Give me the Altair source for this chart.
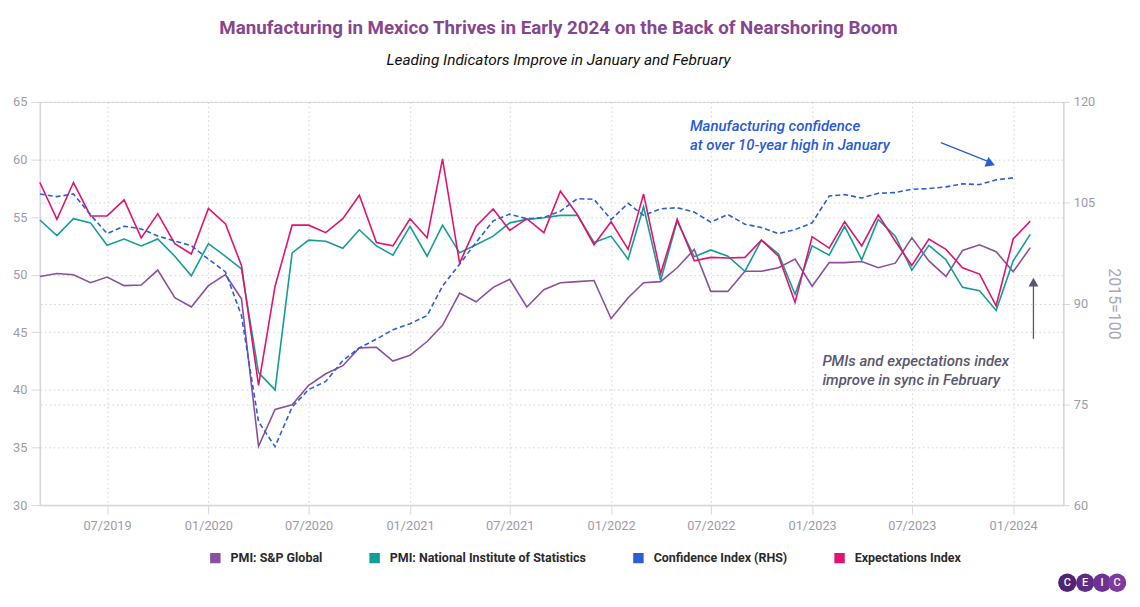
import altair as alt
import pandas as pd

# ---------------- data ----------------
months = [d.strftime("%Y/%m/%d") for d in pd.date_range("2019-03-01", periods=60, freq="MS")]

sp_global = [49.85, 50.1, 50.0, 49.3, 49.8, 49.05, 49.1, 50.4, 48.0, 47.2,
             49.05, 50.0, 47.9, 35.1, 38.3, 38.7, 40.4, 41.4, 42.1, 43.65,
             43.7, 42.5, 43.0, 44.2, 45.6, 48.4, 47.65, 48.9, 49.6, 47.2,
             48.7, 49.3, 49.4, 49.5, 46.2, 48.0, 49.3, 49.4, 50.6, 52.2,
             48.55, 48.55, 50.3, 50.3, 50.6, 51.35, 49.0, 51.05, 51.05, 51.15,
             50.6, 51.0, 53.2, 51.2, 49.85, 52.1, 52.6, 52.0, 50.25, 52.35]

inegi = [54.75, 53.4, 54.86, 54.5, 52.55, 53.1, 52.5, 53.1, 51.6, 49.9,
         52.7, 51.6, 50.5, 41.5, 40.0, 51.9, 53.0, 52.9, 52.3, 53.9,
         52.5, 51.7, 54.2, 51.6, 54.3, 51.9, 52.6, 53.35, 54.5, 54.8,
         54.95, 55.15, 55.15, 52.8, 53.35, 51.35, 55.9, 49.5, 54.65, 51.55,
         52.15, 51.6, 50.3, 53.0, 51.8, 48.3, 52.5, 51.7, 54.2, 51.3,
         54.8, 53.35, 50.4, 52.55, 51.3, 48.9, 48.6, 46.9, 51.2, 53.5]

expectations = [58.0, 54.8, 58.0, 55.1, 55.1, 56.5, 53.2, 55.3, 52.7, 51.8,
                55.75, 54.4, 50.8, 40.4, 49.0, 54.3, 54.3, 53.65, 54.86, 56.9,
                52.8, 52.5, 54.86, 53.2, 60.05, 51.0, 54.2, 55.7, 53.85, 54.86,
                53.65, 57.25, 55.2, 52.6, 54.6, 52.2, 57.0, 50.1, 54.8, 51.2,
                51.5, 51.45, 51.5, 53.0, 51.6, 47.6, 53.3, 52.3, 54.6, 52.5,
                55.2, 52.9, 50.8, 53.1, 52.2, 50.6, 50.05, 47.3, 53.1, 54.65]

confidence = [106.3, 105.9, 106.3, 103.2, 100.4, 101.5, 101.1, 100.05, 99.3, 98.6,
              96.6, 94.7, 88.2, 72.4, 68.7, 74.6, 77.2, 78.4, 81.5, 83.4,
              84.7, 86.1, 87.0, 88.2, 92.6, 95.85, 99.1, 102.3, 103.3, 102.6,
              102.8, 103.75, 105.6, 105.5, 102.5, 104.9, 103.1, 104.1, 104.25, 103.6,
              102.1, 103.25, 101.8, 101.3, 100.4, 101.0, 102.0, 106.0, 106.2, 105.7,
              106.4, 106.5, 107.0, 107.1, 107.35, 107.8, 107.7, 108.4, 108.7]

series_names = ["PMI: S&P Global", "PMI: National Institute of Statistics",
                "Confidence Index (RHS)", "Expectations Index"]
series_colors = ["#8a4f9e", "#149d97", "#2a5fd8", "#e0146f"]

left_ticks = [30, 35, 40, 45, 50, 55, 60, 65]
right_ticks = [60, 75, 90, 105, 120]
x_tick_dates = [alt.DateTime(year=y, month=m, date=1)
                for y, m in [(2019, 7), (2020, 1), (2020, 7), (2021, 1), (2021, 7),
                             (2022, 1), (2022, 7), (2023, 1), (2023, 7), (2024, 1)]]

title_text = "Manufacturing in Mexico Thrives in Early 2024 on the Back of Nearshoring Boom"
subtitle_text = "Leading Indicators Improve in January and February"
note_blue = ["Manufacturing confidence", "at over 10-year high in January"]
note_gray = ["PMIs and expectations index", "improve in sync in February"]

FONT = "Roboto"
AXIS_GRAY = "#9c9bab"
DOMAIN_GRAY = "#d6d6df"
GRID_GRAY = "#d2d2d2"


def frame(name, values):
    return pd.DataFrame({"date": months[:len(values)], "value": values, "series": name})


color_enc = alt.Color(
    "series:N",
    scale=alt.Scale(domain=series_names, range=series_colors),
    legend=alt.Legend(
        title=None, orient="none", direction="horizontal",
        legendX=170, legendY=452,
        symbolType="square", symbolSize=30, symbolStrokeWidth=5,
        symbolDash=[1, 0],
        labelFont=FONT, labelFontSize=12.5, labelFontWeight="bold", labelColor="#2b2b2b",
        labelOffset=9, columnPadding=39, labelLimit=400,
    ),
)

x_enc = alt.X(
    "date:T",
    scale=alt.Scale(domain=[alt.DateTime(year=2019, month=3, date=1),
                            alt.DateTime(year=2024, month=4, date=1)]),
    axis=alt.Axis(values=x_tick_dates, format="%m/%Y", title=None,
                  labelFont=FONT, labelFontSize=12.8, labelColor=AXIS_GRAY,
                  tickSize=9, tickColor=DOMAIN_GRAY, labelPadding=6,
                  domainColor=DOMAIN_GRAY, domainWidth=1.5,
                  grid=True, gridDash=[1.5, 3], gridColor=GRID_GRAY),
)

left_axis = alt.Axis(values=left_ticks, orient="left", title=None,
                     labelFont=FONT, labelFontSize=12.8, labelColor=AXIS_GRAY,
                     tickSize=9, tickColor=DOMAIN_GRAY, labelPadding=4,
                     domainColor=DOMAIN_GRAY, domainWidth=1.5,
                     grid=True, gridDash=[1.5, 3], gridColor=GRID_GRAY)
left_scale = alt.Scale(domain=[30, 65], nice=False, zero=False)


def left_line(name, values):
    return alt.Chart(frame(name, values)).mark_line(strokeWidth=1.6).encode(
        x=x_enc,
        y=alt.Y("value:Q", scale=left_scale, axis=left_axis),
        color=color_enc,
    )


left_layers = alt.layer(
    left_line(series_names[0], sp_global),
    left_line(series_names[1], inegi),
    left_line(series_names[3], expectations),
)

right_line = alt.Chart(frame(series_names[2], confidence)).mark_line(
    strokeWidth=1.6, strokeDash=[5, 3]
).encode(
    x=x_enc,
    y=alt.Y("value:Q", scale=alt.Scale(domain=[60, 120], nice=False, zero=False),
            axis=alt.Axis(values=right_ticks, orient="right", title="2015=100",
                          titleFont=FONT, titleFontSize=16, titleFontWeight="normal",
                          titleColor="#a9a8b6", titlePadding=11,
                          labelFont=FONT, labelFontSize=12.8, labelColor=AXIS_GRAY,
                          tickSize=6, tickColor=DOMAIN_GRAY, labelPadding=4,
                          domainColor=DOMAIN_GRAY, domainWidth=1.5,
                          grid=True, gridDash=[1.5, 3], gridColor=GRID_GRAY)),
    color=color_enc,
)

one = alt.Data(values=[{}])


def note(text, px, py, color):
    return alt.Chart(one).mark_text(
        text=text, align="left", baseline="middle", font=FONT, fontSize=15,
        fontStyle="italic", fontWeight=500, color=color
    ).encode(x=alt.value(px), y=alt.value(py))


blue_note1 = note(note_blue[0], 653, 24, "#2a5bd7")
blue_note2 = note(note_blue[1], 653, 43, "#2a5bd7")
gray_note1 = note(note_gray[0], 786, 260, "#5a586e")
gray_note2 = note(note_gray[1], 786, 279, "#5a586e")

blue_arrow = alt.Chart(one).mark_rule(color="#2a5bd7", strokeWidth=1.3).encode(
    x=alt.value(905), y=alt.value(41), x2=alt.value(953), y2=alt.value(60))
blue_head = alt.Chart(one).mark_point(
    shape="triangle-right", filled=True, size=110, color="#2a5bd7", opacity=1, angle=22
).encode(x=alt.value(955), y=alt.value(62))

gray_arrow = alt.Chart(one).mark_rule(color="#5a586e", strokeWidth=1.3).encode(
    x=alt.value(998), y=alt.value(238), y2=alt.value(184))
gray_head = alt.Chart(one).mark_point(
    shape="triangle-up", filled=True, size=100, color="#5a586e", opacity=1
).encode(x=alt.value(998), y=alt.value(181))

logo_letters = ["C", "E", "I", "C"]
logo_colors = ["#4e2475", "#5e2b85", "#6e3293", "#7d3a9f"]
logo_x = [1032, 1050, 1067, 1082]
logo_layers = []
for letter, col, lx in zip(logo_letters, logo_colors, logo_x):
    logo_layers.append(alt.Chart(one).mark_circle(size=340, color=col, opacity=1).encode(
        x=alt.value(lx), y=alt.value(483)))
    logo_layers.append(alt.Chart(one).mark_text(
        text=letter, font=FONT, fontSize=11, fontWeight=500, color="white",
        align="center", baseline="middle").encode(x=alt.value(lx), y=alt.value(483)))

chart = alt.layer(
    left_layers, right_line,
    blue_note1, blue_note2, gray_note1, gray_note2,
    blue_arrow, blue_head, gray_arrow, gray_head,
    *logo_layers,
).resolve_scale(y="independent").properties(
    width=1028, height=405,
    padding={"left": 4, "top": 9, "right": 5, "bottom": 5},
    title=alt.TitleParams(
        text=title_text, subtitle=subtitle_text, anchor="middle", frame="group", dx=7,
        font=FONT, fontSize=18.8, fontWeight="bold", color="#86468f",
        subtitleFont=FONT, subtitleFontSize=15.5, subtitleFontStyle="italic",
        subtitleColor="#111111", subtitlePadding=15, offset=28,
    ),
).configure_view(strokeWidth=0).configure(background="white")

chart.save("out.html", embed_options={"renderer": "svg", "actions": False})
